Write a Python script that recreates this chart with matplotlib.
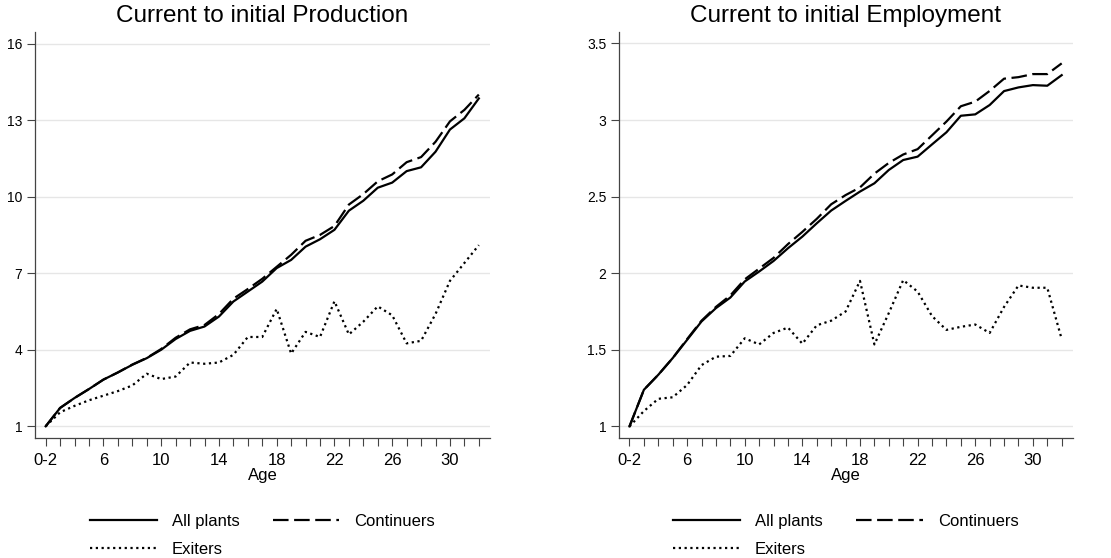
import numpy as np
import matplotlib.pyplot as plt

plt.rcParams['font.family'] = ['Liberation Sans', 'DejaVu Sans']

# Ages (first point is the 0-2 group)
ages = list(range(2, 33))
age_ticks = list(range(2, 33))
age_labels = ['0-2' if a == 2 else (str(a) if (a - 2) % 4 == 0 else '') for a in age_ticks]

# Current to initial production
prod_all = [1.0, 1.72, 2.11, 2.46, 2.83, 3.11, 3.41, 3.67, 4.0, 4.42, 4.74, 4.91, 5.30, 5.89,
            6.28, 6.67, 7.20, 7.52, 8.04, 8.33, 8.70, 9.45, 9.84, 10.35, 10.55, 11.0, 11.15,
            11.76, 12.63, 13.07, 13.85]
prod_cont = [1.0, 1.72, 2.11, 2.46, 2.83, 3.11, 3.42, 3.68, 4.03, 4.47, 4.80, 4.97, 5.40, 6.0,
             6.38, 6.78, 7.25, 7.72, 8.27, 8.5, 8.85, 9.69, 10.1, 10.6, 10.87, 11.35, 11.55,
             12.15, 12.95, 13.4, 14.0]
prod_exit = [1.0, 1.55, 1.80, 2.02, 2.2, 2.38, 2.6, 3.06, 2.85, 2.95, 3.5, 3.45, 3.5, 3.8,
             4.5, 4.5, 5.6, 3.85, 4.7, 4.5, 5.9, 4.6, 5.1, 5.7, 5.35, 4.25, 4.35, 5.4, 6.7,
             7.4, 8.1]
prod_yticks = [1, 4, 7, 10, 13, 16]

# Current to initial employment
emp_all = [1.0, 1.239, 1.337, 1.446, 1.565, 1.685, 1.772, 1.841, 1.946, 2.011, 2.08, 2.163,
           2.239, 2.326, 2.409, 2.472, 2.533, 2.587, 2.674, 2.739, 2.761, 2.841, 2.92, 3.028,
           3.037, 3.098, 3.189, 3.213, 3.228, 3.224, 3.293]
emp_cont = [1.0, 1.239, 1.337, 1.446, 1.57, 1.69, 1.78, 1.855, 1.96, 2.03, 2.10, 2.19, 2.27,
            2.355, 2.45, 2.51, 2.56, 2.65, 2.72, 2.775, 2.81, 2.90, 2.99, 3.09, 3.12, 3.19,
            3.27, 3.28, 3.30, 3.30, 3.37]
emp_exit = [1.0, 1.10, 1.18, 1.19, 1.27, 1.40, 1.455, 1.46, 1.575, 1.535, 1.61, 1.645, 1.54,
            1.66, 1.69, 1.75, 1.95, 1.535, 1.74, 1.955, 1.88, 1.72, 1.63, 1.65, 1.665, 1.61,
            1.78, 1.92, 1.905, 1.905, 1.57]
emp_yticks = [1, 1.5, 2, 2.5, 3, 3.5]
emp_ylabels = ['1', '1.5', '2', '2.5', '3', '3.5']

fig = plt.figure(figsize=(11.11, 5.58), dpi=100)
ax1 = fig.add_axes([0.0315, 0.215, 0.4095, 0.728])
ax2 = fig.add_axes([0.557, 0.215, 0.4086, 0.728])


def draw_panel(ax, title, all_v, cont_v, exit_v, yticks, ylabels, ylim):
    ax.plot(ages, all_v, color='black', lw=1.6, label='All plants')
    ax.plot(ages, cont_v, color='black', lw=1.6, ls=(0, (7, 2.5)), label='Continuers')
    ax.plot(ages, exit_v, color='black', lw=1.6, ls=(0, (1, 1.6)), label='Exiters')
    ax.set_xlim(1.26, 32.77)
    ax.set_ylim(*ylim)
    ax.set_xticks(age_ticks)
    ax.set_xticklabels(age_labels, fontsize=12)
    ax.set_yticks(yticks)
    ax.set_yticklabels(ylabels, fontsize=10)
    ax.grid(axis='y', color='#e6e6e6', lw=1)
    ax.set_axisbelow(True)
    for s in ['top', 'right']:
        ax.spines[s].set_visible(False)
    for s in ['left', 'bottom']:
        ax.spines[s].set_color('#444444')
        ax.spines[s].set_linewidth(0.9)
    ax.tick_params(axis='both', length=6, width=0.8, color='#444444', pad=3)
    ax.tick_params(axis='x', pad=5)
    ax.set_xlabel('Age', fontsize=12, labelpad=0)
    ax.set_title(title, fontsize=17.5, pad=7)
    h, l = ax.get_legend_handles_labels()
    order = [0, 2, 1]
    ax.legend([h[i] for i in order], [l[i] for i in order], ncol=2,
              loc='upper center', bbox_to_anchor=(0.5, -0.155), frameon=False,
              fontsize=12, handlelength=4, handletextpad=0.9, columnspacing=2.0,
              labelspacing=0.75, borderpad=0.3)


draw_panel(ax1, 'Current to initial Production', prod_all, prod_cont, prod_exit,
           prod_yticks, [str(t) for t in prod_yticks], (0.54, 16.46))
draw_panel(ax2, 'Current to initial Employment', emp_all, emp_cont, emp_exit,
           emp_yticks, emp_ylabels, (0.924, 3.576))

fig.savefig('out.png', dpi=100)
